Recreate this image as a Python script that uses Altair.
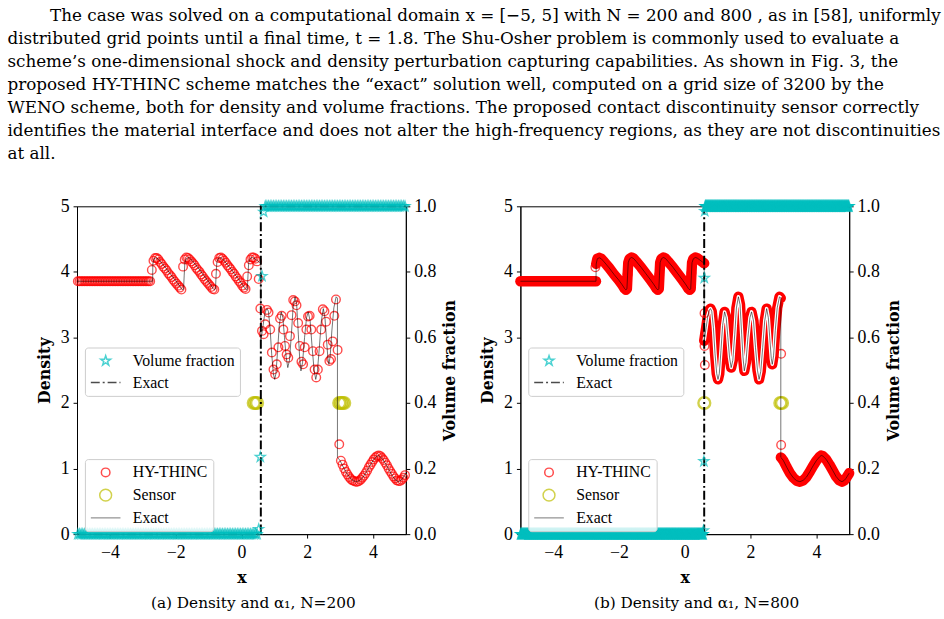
import math
import altair as alt
import pandas as pd

FONT = "Liberation Serif"
FONT_WIDE = "DejaVu Serif"

# ---------------- text ----------------
PARAGRAPH = [
    "\u200b" + "\u00a0" * 8 + "The case was solved on a computational domain x = [\u22125, 5] with N = 200 and 800 , as in [58], uniformly",
    "distributed grid points until a final time, t = 1.8. The Shu-Osher problem is commonly used to evaluate a",
    "scheme\u2019s one-dimensional shock and density perturbation capturing capabilities. As shown in Fig. 3, the",
    "proposed HY-THINC scheme matches the \u201cexact\u201d solution well, computed on a grid size of 3200 by the",
    "WENO scheme, both for density and volume fractions. The proposed contact discontinuity sensor correctly",
    "identifies the material interface and does not alter the high-frequency regions, as they are not discontinuities",
    "at all.",
]
CAPTIONS = ["(a) Density and \u03b1\u2081, N=200", "(b) Density and \u03b1\u2081, N=800"]

X_TICKS = [-4, -2, 0, 2, 4]
RHO_TICKS = [0, 1, 2, 3, 4, 5]
VF_TICKS = [0.0, 0.2, 0.4, 0.6, 0.8, 1.0]

DENS_KEYS = ["HY-THINC", "Sensor", "Exact"]
VF_KEYS = ["Volume fraction", "Exact"]

# ---------------- exact solution ----------------
EX1_X = [-5.0, -2.70]
EX1_D = [3.857, 3.857]
EX2_X = [-2.695, -2.66, -2.60, -2.54, -2.45, -2.30, -2.15, -2.00, -1.90, -1.83, -1.79, -1.76, -1.74,
         -1.72, -1.68, -1.62, -1.56, -1.48, -1.33, -1.18, -1.03, -0.93, -0.86, -0.82, -0.79, -0.77,
         -0.75, -0.71, -0.65, -0.59, -0.51, -0.36, -0.21, -0.06, 0.04, 0.11, 0.15, 0.18, 0.20, 0.22,
         0.26, 0.32, 0.38, 0.46, 0.54, 0.59]
EX2_D = [4.12, 4.20, 4.215, 4.20, 4.15, 4.06, 3.96, 3.87, 3.80, 3.745, 3.725, 3.74, 3.95,
         4.14, 4.20, 4.22, 4.205, 4.16, 4.07, 3.97, 3.87, 3.80, 3.745, 3.725, 3.74, 3.95,
         4.14, 4.20, 4.22, 4.205, 4.16, 4.07, 3.97, 3.87, 3.80, 3.745, 3.725, 3.74, 3.95, 4.14,
         4.20, 4.22, 4.21, 4.18, 4.15, 4.13]
EX3_X = [0.59, 0.65, 0.70, 0.75, 0.78, 0.82, 0.87, 0.92, 0.97, 1.01, 1.05, 1.10, 1.15, 1.21, 1.26,
         1.31, 1.36, 1.41, 1.46, 1.52, 1.57, 1.63, 1.68, 1.73, 1.77, 1.81, 1.86, 1.92, 1.98, 2.03,
         2.09, 2.15, 2.21, 2.26, 2.31, 2.37, 2.43, 2.49, 2.54, 2.59, 2.63, 2.66, 2.70, 2.75, 2.81,
         2.88, 2.92]
EX3_D = [2.95, 3.15, 3.33, 3.42, 3.44, 3.40, 3.15, 2.75, 2.45, 2.36, 2.45, 2.80, 3.18, 3.39, 3.30,
         3.00, 2.70, 2.54, 2.65, 3.05, 3.45, 3.62, 3.50, 3.05, 2.70, 2.49, 2.62, 3.00, 3.30, 3.39,
         3.25, 2.85, 2.50, 2.36, 2.48, 2.85, 3.25, 3.44, 3.30, 2.95, 2.68, 2.59, 2.72, 3.10, 3.45,
         3.62, 3.60]
EX4_X = [2.92, 2.95, 3.0, 3.1, 3.2, 3.3, 3.4, 3.5, 3.6, 3.7, 3.8, 3.9, 4.0, 4.1, 4.15, 4.2, 4.3,
         4.4, 4.5, 4.6, 4.7, 4.78, 4.85, 4.9, 5.0]
EX4_D = [1.17, 1.155, 1.12, 1.02, 0.93, 0.86, 0.815, 0.80, 0.82, 0.87, 0.95, 1.04, 1.12, 1.18, 1.20,
         1.19, 1.14, 1.06, 0.97, 0.88, 0.82, 0.80, 0.82, 0.85, 0.93]

VF_EXACT_X = [-5.0, 0.59, 0.59, 5.0]
VF_EXACT_V = [0.0, 0.0, 1.0, 1.0]

# ---------------- N = 200 (panel a) ----------------
RHO_A_FLAT = [3.857] * 45
RHO_A_SAW = [4.03, 4.17, 4.21, 4.21, 4.19, 4.15, 4.12, 4.08, 4.05, 4.02, 3.98, 3.95, 3.92, 3.88, 3.85,
             3.82, 3.79, 3.76, 3.73, 4.08, 4.19, 4.22, 4.21, 4.19, 4.16, 4.13, 4.10, 4.06, 4.03, 4.00,
             3.96, 3.93, 3.89, 3.86, 3.83, 3.80, 3.77, 3.74, 3.73, 3.97, 4.15, 4.21, 4.22, 4.20, 4.17,
             4.14, 4.10, 4.07, 4.04, 4.00, 3.97, 3.93, 3.90, 3.86, 3.83, 3.79, 3.76, 3.74, 3.93, 4.10,
             4.19, 4.22, 4.22, 4.20, 4.16, 3.89, 3.44]
RHO_A_OSC = [3.10, 3.05, 3.20, 3.42, 3.38, 3.12, 2.77, 2.51, 2.44, 2.59, 2.85, 3.29, 3.33, 3.12, 2.87,
             2.74, 2.69, 3.02, 3.34, 3.57, 3.55, 3.49, 3.22, 2.87, 2.63, 2.59, 2.85, 3.12, 3.32, 3.33,
             3.12, 2.79, 2.51, 2.39, 2.51, 2.79, 3.12, 3.43, 3.40, 3.24, 2.89, 2.64, 2.67, 2.94, 3.33,
             3.58, 2.81]
RHO_A_SHOCK = [1.37, 1.12]
RHO_A_POST = [1.06, 1.00, 0.95, 0.91, 0.87, 0.84, 0.82, 0.81, 0.80, 0.80, 0.81, 0.83, 0.86, 0.89, 0.93,
              0.97, 1.02, 1.06, 1.10, 1.14, 1.17, 1.19, 1.20, 1.19, 1.16, 1.13, 1.09, 1.05, 1.00, 0.96,
              0.92, 0.88, 0.85, 0.82, 0.81, 0.81, 0.83, 0.86, 0.90]
VF_A = [0.0] * 110 + [0.015, 0.235, 0.787, 0.983] + [1.0] * 86
SENSOR_A_X = [0.375, 0.425, 0.475, 2.975, 3.025, 3.075, 3.125]

# ---------------- N = 800 (panel b) ----------------
OFF_B_X = [-2.72, -1.74, -0.78, 0.17, 0.20, 0.60, 0.60, 0.61, 2.93, 2.93]
OFF_B_D = [4.07, 3.96, 3.95, 3.90, 3.98, 3.37, 2.87, 2.58, 1.36, 2.75]
VF_B = [0.0] * 445 + [0.011, 0.222, 0.781, 0.985] + [1.0] * 351
SENSOR_B_X = [0.59375, 2.90625, 2.95625]
SENSOR_LEVEL = 2.0


def centers(n):
    return [-5 + (i + 0.5) * 10.0 / n for i in range(n)]


# ---------------- marker shapes (unit box; size 225 -> 7.5 px per unit) ----------------
def circle_path(r):
    return f"M{-r},0A{r},{r} 0 1,0 {r},0A{r},{r} 0 1,0 {-r},0Z"


def star_path(ro, ri):
    pts = []
    for k in range(10):
        a = math.radians(-90 + 36 * k)
        rr = ro if k % 2 == 0 else ri
        pts.append(f"{rr * math.cos(a):.4f},{rr * math.sin(a):.4f}")
    return "M" + "L".join(pts) + "Z"


BOX = 225
CIRCLE_HY = circle_path(0.58)
CIRCLE_SENSOR = circle_path(0.80)
STROKE = "M-2,0L2,0"
STAR = star_path(0.70, 0.27)

# ---------------- tables ----------------
exact_segments = [(EX1_X, EX1_D), (EX2_X, EX2_D), (EX3_X, EX3_D), (EX4_X, EX4_D)]
rows = []
for k, (xs, ds) in enumerate(exact_segments):
    for xv, dv in zip(xs, ds):
        rows.append({"x": xv, "d": dv, "seg": k, "i": len(rows)})
exact_df = pd.DataFrame(rows)

vf_exact_df = pd.DataFrame({"x": VF_EXACT_X, "v": VF_EXACT_V, "i": range(4), "s": "Exact"})

rho_a = RHO_A_FLAT + RHO_A_SAW + RHO_A_OSC + RHO_A_SHOCK + RHO_A_POST
hy_a = pd.DataFrame({"x": centers(200), "d": rho_a, "s": "HY-THINC"})
vf_a = pd.DataFrame({"x": centers(200), "v": VF_A, "s": "Volume fraction"})
sens_a = pd.DataFrame({"x": SENSOR_A_X, "d": SENSOR_LEVEL, "s": "Sensor"})

hy_b = pd.DataFrame({"x": OFF_B_X, "d": OFF_B_D, "s": "HY-THINC"})
band_b = exact_df.copy()  # at N=800 the HY-THINC markers lie on the exact curve
hollow_b = band_b[band_b["seg"] == 2]  # open markers spread out on the steep oscillations
vf_b = pd.DataFrame({"x": centers(800), "v": VF_B, "s": "Volume fraction"})
sens_b = pd.DataFrame({"x": SENSOR_B_X, "d": SENSOR_LEVEL, "s": "Sensor"})

# ---------------- encodings ----------------
X = alt.X("x:Q", scale=alt.Scale(domain=[-5, 5], nice=False, zero=False),
          axis=alt.Axis(values=X_TICKS, title="x", labelPadding=6, titlePadding=8))
YD = alt.Y("d:Q", scale=alt.Scale(domain=[0, 5], nice=False, zero=False),
           axis=alt.Axis(values=RHO_TICKS, title="Density", orient="left", titlePadding=8))
YV = alt.Y("v:Q", scale=alt.Scale(domain=[0, 1], nice=False, zero=False),
           axis=alt.Axis(values=VF_TICKS, format=".1f", title="Volume fraction", orient="right",
                         titleAngle=270, titleBaseline="top", titlePadding=6))


def legend(y):
    return alt.Legend(orient="none", legendX=8, legendY=y, padding=5, rowPadding=5,
                      labelFont=FONT, labelFontSize=16, labelColor="black", labelOffset=19,
                      symbolOffset=7.5, symbolStrokeWidth=1.5, symbolSize=BOX,
                      strokeColor="#cccccc", fillColor="rgba(255,255,255,0.8)", cornerRadius=3)


LEG_D = legend(256)
LEG_V = legend(143)

d_color = alt.Color("s:N", title=None, legend=LEG_D,
                    scale=alt.Scale(domain=DENS_KEYS, range=["#ff0000", "#bfbf00", "#808080"]))
d_shape = alt.Shape("s:N", title=None, legend=LEG_D,
                    scale=alt.Scale(domain=DENS_KEYS, range=[CIRCLE_HY, CIRCLE_SENSOR, STROKE]))
v_color = alt.Color("s:N", title=None, legend=LEG_V,
                    scale=alt.Scale(domain=VF_KEYS, range=["#00bfbf", "black"]))
v_shape = alt.Shape("s:N", title=None, legend=LEG_V,
                    scale=alt.Scale(domain=VF_KEYS, range=[STAR, STROKE]))
v_dash = alt.StrokeDash("s:N", title=None, legend=LEG_V,
                        scale=alt.Scale(domain=VF_KEYS, range=[[1, 0], [9, 3, 2, 3]]))


def panel(hy_df, sens_df, vf_df, caption, band_df=None, hollow_df=None):
    dens_layers = []
    if band_df is not None:
        dens_layers.append(
            alt.Chart(band_df).mark_line(color="#ff0000", strokeWidth=10.5, strokeCap="round",
                                         strokeJoin="round")
            .encode(x=X, y=YD, detail="seg:N", order="i:Q"))
        dens_layers.append(
            alt.Chart(hollow_df).mark_line(color="white", strokeWidth=3.5, strokeJoin="round")
            .encode(x=X, y=YD, order="i:Q"))
    dens_layers.append(
        alt.Chart(hy_df).mark_point(filled=False, strokeWidth=1.4, size=BOX)
        .encode(x=X, y=YD, color=d_color, shape=d_shape))
    dens_layers.append(
        alt.Chart(sens_df).mark_point(filled=False, strokeWidth=2.4, size=BOX)
        .encode(x=X, y=YD, color=d_color, shape=d_shape))
    dens_layers.append(
        alt.Chart(exact_df).mark_line(color="black", opacity=0.55, strokeWidth=1)
        .encode(x=X, y=YD, order="i:Q"))
    dens = alt.layer(*dens_layers)

    vf = alt.layer(
        alt.Chart(vf_exact_df).mark_line(strokeWidth=2)
        .encode(x=X, y=YV, color=v_color, strokeDash=v_dash, order="i:Q"),
        alt.Chart(vf_df).mark_point(filled=False, strokeWidth=1.3, size=BOX)
        .encode(x=X, y=YV, color=v_color, shape=v_shape),
    )
    return alt.layer(dens, vf).resolve_scale(
        y="independent", color="independent", shape="independent", strokeDash="independent"
    ).properties(
        width=333, height=332,
        title=alt.TitleParams(caption, orient="bottom", anchor="middle", font=FONT_WIDE,
                              fontSize=15.5, fontWeight="normal", color="black", offset=11, dx=12),
    )


pa = panel(hy_a, sens_a, vf_a, CAPTIONS[0])
pb = panel(hy_b, sens_b, vf_b, CAPTIONS[1], band_df=band_b, hollow_df=hollow_b)

chart = alt.hconcat(pa, pb, spacing=21).properties(
    title=alt.TitleParams(PARAGRAPH, anchor="start", frame="bounds", font=FONT_WIDE, fontSize=17,
                          fontWeight="normal", color="black", lineHeight=23.3, dx=-29, offset=34),
    padding={"left": 7, "top": 3, "right": 2, "bottom": 2},
).configure_view(stroke="black", strokeWidth=1).configure_axis(
    domainColor="black", tickColor="black", labelColor="black", titleColor="black",
    labelFont=FONT, titleFont=FONT_WIDE, labelFontSize=18, titleFontSize=16, titleFontWeight="bold",
    tickSize=4, tickWidth=1, domainWidth=1, grid=False, labelPadding=4,
)

chart.save("out.html", embed_options={"renderer": "svg", "actions": False})
